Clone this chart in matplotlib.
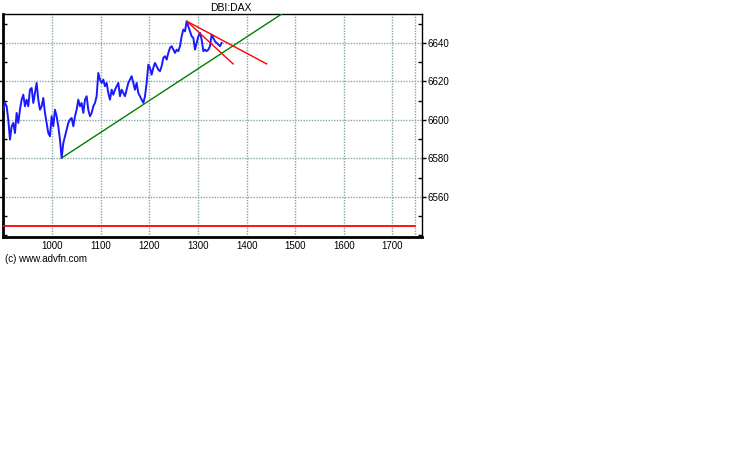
import numpy as np
import matplotlib
matplotlib.use("Agg")
import matplotlib.pyplot as plt
from matplotlib.ticker import MultipleLocator

# price (minute index from ~899 to ~1348)
prices = [6605.3, 6608.8, 6607.1, 6600.2, 6589.8, 6596.7, 6598.4, 6593.2, 6603.6, 6598.4,
          6605.3, 6610.5, 6613.1, 6607.1, 6610.5, 6607.1, 6615.7, 6616.6, 6608.8, 6614.0,
          6619.2, 6610.5, 6605.3, 6607.1, 6611.4, 6603.6, 6598.4, 6593.2, 6591.5, 6601.9,
          6596.7, 6605.3, 6601.9, 6596.7, 6589.8, 6580.2, 6588.0, 6591.5, 6595.0, 6598.4,
          6600.2, 6601.0, 6596.7, 6601.9, 6605.3, 6610.5, 6607.1, 6608.8, 6603.6, 6610.5,
          6612.3, 6605.3, 6601.9, 6603.6, 6607.1, 6608.8, 6612.3, 6624.4, 6620.9, 6619.2,
          6620.9, 6617.5, 6619.2, 6614.0, 6610.5, 6615.7, 6613.1, 6615.7, 6617.5, 6619.2,
          6612.3, 6615.7, 6614.0, 6612.3, 6615.7, 6619.2, 6620.9, 6622.7, 6619.2, 6615.7,
          6619.2, 6614.0, 6612.3, 6610.5, 6608.8, 6612.3, 6619.2, 6628.7, 6627.0, 6623.5,
          6627.0, 6629.6, 6627.9, 6626.1, 6625.3, 6627.9, 6632.2, 6633.1, 6631.3, 6634.8,
          6637.4, 6638.3, 6636.5, 6634.8, 6636.5, 6635.7, 6638.3, 6643.4, 6646.9, 6646.0,
          6651.2, 6648.6, 6646.0, 6643.4, 6642.6, 6636.5, 6640.0, 6643.4, 6645.2, 6641.7,
          6635.7, 6636.5, 6635.7, 6636.5, 6638.3, 6644.3, 6642.6, 6640.8, 6640.0, 6639.1,
          6638.3, 6640.0]
times = np.linspace(899.2, 1348.5, len(prices))

# trend lines (start, end)
green_x = [1019, 1472]
green_y = [6580.2, 6655.0]
red1_x = [1277, 1441]
red1_y = [6651.2, 6629.1]
red2_x = [1277, 1372]
red2_y = [6651.2, 6629.1]
support_level = 6544.8
now_x = 1746

xticks = [1000, 1100, 1200, 1300, 1400, 1500, 1600, 1700]
yticks = [6560, 6580, 6600, 6620, 6640]

plt.rcParams['font.family'] = ['Liberation Sans', 'DejaVu Sans']

fig = plt.figure(figsize=(7.38, 4.75), dpi=100)
ax = fig.add_axes([3 / 738, 1 - 237 / 475, 419 / 738, 223 / 475])

grid_style = dict(color='#86a6a6', linestyle=(0, (1, 1)), linewidth=1, zorder=1)
for t in xticks:
    ax.axvline(t, **grid_style)
for t in yticks:
    ax.axhline(t, **grid_style)
ax.axvline(now_x, **grid_style)

ax.plot(times, prices, color='#1a1aff', linewidth=1.4, zorder=3)
ax.plot(green_x, green_y, color='#008000', linewidth=1, zorder=4)
ax.plot(red1_x, red1_y, color='#ff0000', linewidth=1, zorder=4)
ax.plot(red2_x, red2_y, color='#ff0000', linewidth=1, zorder=4)
ax.plot([898.6, now_x], [support_level, support_level], color='#ff0000', linewidth=1.3, zorder=4)

ax.set_xlim(898.6, 1760.7)
ax.set_ylim(6539.2, 6655.0)

ax.set_xticks(xticks)
ax.set_yticks(yticks)
ax.yaxis.set_minor_locator(MultipleLocator(10))
ax.yaxis.tick_right()
ax.tick_params(axis='y', which='major', direction='out', length=3, width=1, labelsize=7, pad=1, left=True)
ax.tick_params(axis='y', which='minor', direction='in', length=3, width=1, left=True, right=True)
ax.tick_params(axis='x', which='major', length=0, labelsize=7, pad=3)

for side in ['top', 'right']:
    ax.spines[side].set_linewidth(1)
ax.spines['left'].set_linewidth(2)
ax.spines['bottom'].set_linewidth(2)

fig.text(231 / 738, 1 - 8 / 475, 'DBI:DAX', ha='center', va='center', fontsize=7.5)
fig.text(5 / 738, 1 - 259 / 475, '(c) www.advfn.com', ha='left', va='center', fontsize=7)

fig.savefig('out.png', dpi=100)
